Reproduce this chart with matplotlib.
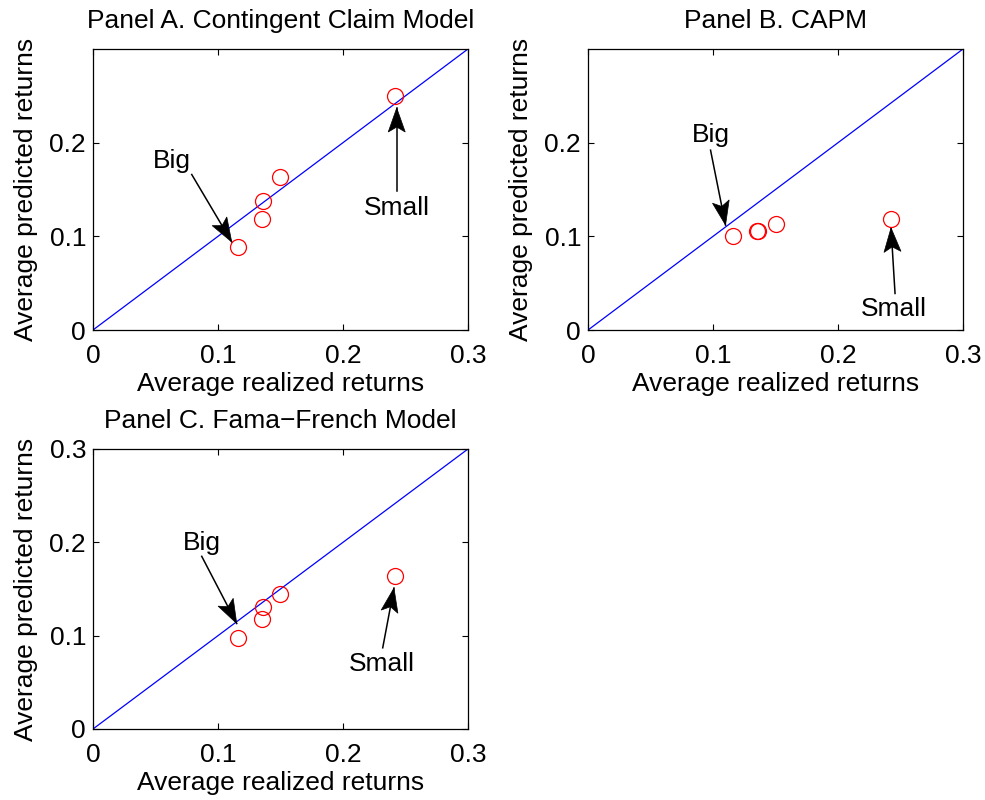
import numpy as np
import matplotlib
matplotlib.use("Agg")
import matplotlib.pyplot as plt
from matplotlib.patches import Polygon

plt.rcParams['font.family'] = ['Liberation Sans', 'DejaVu Sans']
plt.rcParams['font.size'] = 19

# Average realized returns of the five portfolios (shared by all panels)
realized = [0.116, 0.135, 0.136, 0.150, 0.242]

# Average predicted returns under each model
pred_ccm = [0.089, 0.118, 0.138, 0.163, 0.250]
pred_capm = [0.100, 0.106, 0.106, 0.113, 0.119]
pred_ff = [0.097, 0.118, 0.131, 0.145, 0.164]

titles = ["Panel A. Contingent Claim Model",
          "Panel B. CAPM",
          "Panel C. Fama\u2212French Model"]
xticks = [0, 0.1, 0.2, 0.3]
xtick_labels = ["0", "0.1", "0.2", "0.3"]
yticks_ab = [0, 0.1, 0.2]
yticks_c = [0, 0.1, 0.2, 0.3]

# Annotation placement: (text, tail, tip) for "Big" and "Small" arrows
big_notes = [((0.063, 0.180), (0.079, 0.166), (0.111, 0.094)),
             ((0.098, 0.208), (0.098, 0.192), (0.110, 0.112)),
             ((0.087, 0.199), (0.087, 0.185), (0.115, 0.113))]
small_notes = [((0.243, 0.130), (0.243, 0.148), (0.243, 0.237)),
               ((0.245, 0.022), (0.2456, 0.039), (0.2424, 0.109)),
               ((0.231, 0.070), (0.2318, 0.087), (0.2408, 0.151))]

# Notched arrow head size in pixels: length, full width, notch depth
HEAD_L, HEAD_W, HEAD_N = 24.0, 17.0, 5.0


def draw_arrow(ax, tail, tip):
    p0 = ax.transData.transform(tail)
    p1 = ax.transData.transform(tip)
    d = (p1 - p0) / np.hypot(*(p1 - p0))
    n = np.array([-d[1], d[0]])
    base = p1 - d * HEAD_L
    pts = np.array([p1,
                    base + n * HEAD_W / 2,
                    p1 - d * (HEAD_L - HEAD_N),
                    base - n * HEAD_W / 2])
    ax.plot([tail[0], tip[0]], [tail[1], tip[1]], color='black', lw=1.1)
    pts_data = ax.transData.inverted().transform(pts)
    ax.add_patch(Polygon(pts_data, closed=True, fc='black', ec='black',
                         lw=0.5, zorder=3))


fig = plt.figure(figsize=(9.85, 8.0), dpi=100)
positions = [[0.0944, 0.5875, 0.3807, 0.35125],
             [0.5970, 0.5875, 0.3807, 0.35125],
             [0.0944, 0.08875, 0.3807, 0.35]]
preds = [pred_ccm, pred_capm, pred_ff]
yticks_all = [yticks_ab, yticks_ab, yticks_c]

for i in range(3):
    ax = fig.add_axes(positions[i])
    ax.set_xlim(0, 0.3)
    ax.set_ylim(0, 0.3)
    ax.plot([0, 0.3], [0, 0.3], color='blue', lw=0.9)
    ax.plot(realized, preds[i], 'o', mfc='none', mec='red', ms=11.5, mew=0.9,
            zorder=4)
    ax.set_xticks(xticks)
    ax.set_xticklabels(xtick_labels)
    ax.set_yticks(yticks_all[i])
    ax.set_yticklabels(["0" if v == 0 else f"{v:g}" for v in yticks_all[i]])
    ax.tick_params(direction='in', top=True, right=True, length=4, width=0.8)
    ax.tick_params(axis='x', pad=10)
    ax.tick_params(axis='y', pad=5)
    for s in ax.spines.values():
        s.set_linewidth(0.9)
    ax.set_xlabel("Average realized returns", labelpad=3)
    ax.set_ylabel("Average predicted returns", labelpad=8)
    ax.set_title(titles[i], fontsize=19, pad=15)

    for notes, label in ((big_notes, "Big"), (small_notes, "Small")):
        (tx, ty), tail, tip = notes[i]
        draw_arrow(ax, tail, tip)
        ax.text(tx, ty, label, ha='center', va='center', fontsize=19)

fig.savefig("out.png", dpi=100)
